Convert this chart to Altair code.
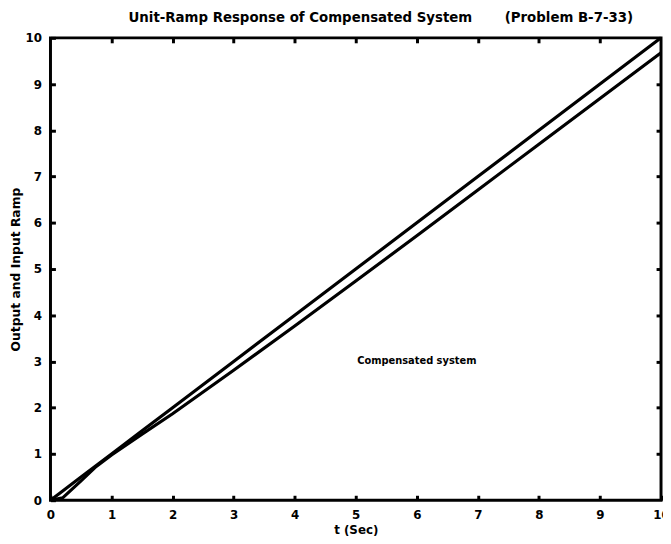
import altair as alt
import pandas as pd

# Data
t_vals = [0, 0.2, 0.5, 0.75, 1, 1.5, 2, 3, 4, 5, 6, 7, 8, 9, 10]
ramp_vals = [0, 0.2, 0.5, 0.75, 1, 1.5, 2, 3, 4, 5, 6, 7, 8, 9, 10]
output_vals = [0, 0.05, 0.42, 0.73, 0.98, 1.43, 1.87, 2.81, 3.77, 4.74, 5.72, 6.71, 7.7, 8.69, 9.68]
tick_vals = [0, 1, 2, 3, 4, 5, 6, 7, 8, 9, 10]
annot_text = ["Compensated system"]
annot_x = [6.0]
annot_y = [3.0]
title_text = "Unit-Ramp Response of Compensated System" + "\u00a0" * 7 + "(Problem B-7-33)"

df = pd.DataFrame({
    "t": t_vals * 2,
    "v": ramp_vals + output_vals,
    "s": ["Input ramp"] * len(t_vals) + ["Output"] * len(t_vals),
})
ann = pd.DataFrame({"x": annot_x, "y": annot_y, "label": annot_text})

FONT = "DejaVu Sans"
xs = alt.Scale(domain=[0, 10], nice=False, zero=False)
ys = alt.Scale(domain=[0, 10], nice=False, zero=False)

lines = alt.Chart(df).mark_line(color="black", strokeWidth=3.2).encode(
    x=alt.X("t:Q", scale=xs, axis=alt.Axis(
        values=tick_vals, title="t (Sec)", offset=-5, tickSize=5, tickWidth=3, tickColor="black",
        labelPadding=10, domain=False,
        labelFont=FONT, labelFontWeight="bold", labelFontSize=12, labelColor="black",
        titleFont=FONT, titleFontWeight="bold", titleFontSize=12, titleColor="black",
        titlePadding=4, grid=False, labelFlush=False)),
    y=alt.Y("v:Q", scale=ys, axis=alt.Axis(
        values=tick_vals, title="Output and Input Ramp", offset=-5, tickSize=5, tickWidth=3,
        tickColor="black", labelPadding=9, domain=False,
        labelFont=FONT, labelFontWeight="bold", labelFontSize=12, labelColor="black",
        titleFont=FONT, titleFontWeight="bold", titleFontSize=12.5, titleColor="black",
        titlePadding=3, grid=False, labelFlush=False)),
    detail="s:N",
)

ticks_b = alt.Chart(df).mark_point(opacity=0).encode(
    x=alt.X("t:Q", scale=xs, axis=alt.Axis(
        orient="top", values=tick_vals[1:-1], labels=False, domain=False,
        tickSize=5, tickWidth=3, tickColor="black", offset=-5, title=None, grid=False)),
    y=alt.Y("v:Q", scale=ys, axis=alt.Axis(
        orient="right", values=tick_vals[1:-1], labels=False, domain=False,
        tickSize=5, tickWidth=3, tickColor="black", offset=-5, title=None, grid=False)),
)

text = alt.Chart(ann).mark_text(
    font=FONT, fontWeight="bold", fontSize=10, color="black", align="center"
).encode(x=alt.X("x:Q", scale=xs, axis=None), y=alt.Y("y:Q", scale=ys, axis=None), text="label:N")

chart = alt.layer(lines, ticks_b, text).resolve_axis(
    x="independent", y="independent"
).properties(
    width=618, height=468,
    background="white",
    title=alt.TitleParams(
        title_text,
        font=FONT, fontWeight="bold", fontSize=13.5, color="black",
        anchor="start", frame="group", dx=79, offset=7),
    autosize=alt.AutoSizeParams(type="none"),
    padding={"left": 43, "top": 27, "right": 2, "bottom": 33},
).configure_view(stroke="black", strokeWidth=3)

chart.save("out.html", embed_options={"renderer": "svg", "actions": False})
